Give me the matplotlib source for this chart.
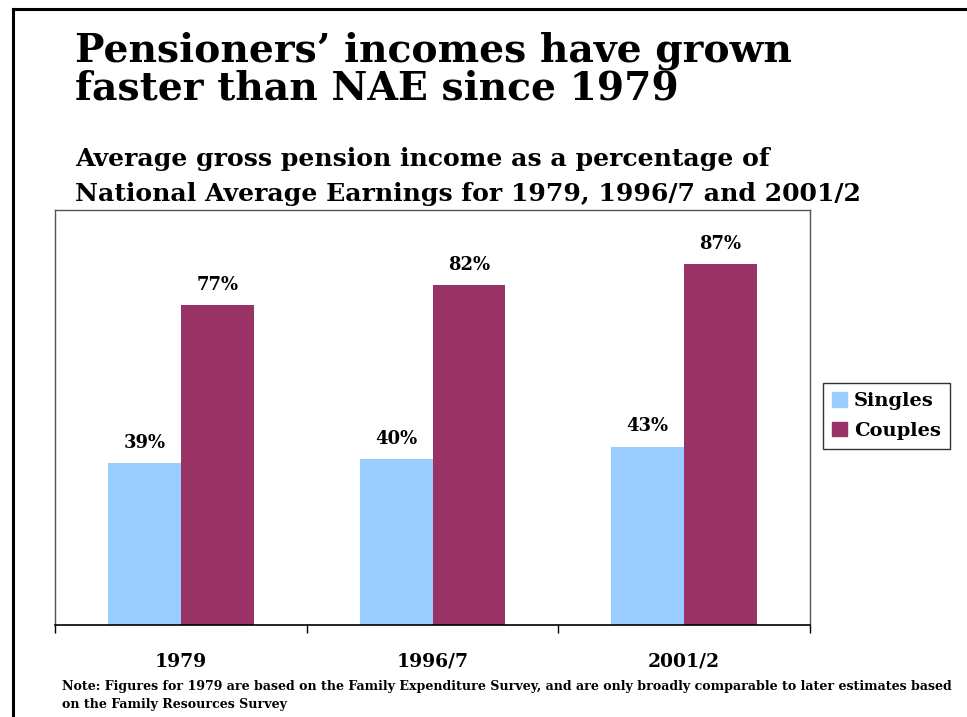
import matplotlib
matplotlib.use("Agg")
import matplotlib.pyplot as plt
import numpy as np
from matplotlib.lines import Line2D
from matplotlib.patches import Patch

# data
years = ["1979", "1996/7", "2001/2"]
singles = [39, 40, 43]
couples = [77, 82, 87]
series_names = ["Singles", "Couples"]
colors = ["#99CCFF", "#993366"]

plt.rcParams['font.family'] = ['DejaVu Serif']
plt.rcParams['font.weight'] = 'bold'

W, H = 967, 717
fig = plt.figure(figsize=(W / 100, H / 100), dpi=100)

# frame lines round the slide (top and left)
fig.add_artist(Line2D([13 / W, 1], [1 - 9 / H, 1 - 9 / H], color="black", lw=2.2))
fig.add_artist(Line2D([13 / W, 13 / W], [0, 1 - 9 / H], color="black", lw=2.2))

# titles
fig.text(75 / W, 1 - 62 / H, "Pensioners’ incomes have grown", fontsize=28.3, fontweight="bold", va="baseline")
fig.text(75 / W, 1 - 100 / H, "faster than NAE since 1979", fontsize=28.3, fontweight="bold", va="baseline")
fig.text(75 / W, 1 - 166 / H, "Average gross pension income as a percentage of", fontsize=18.1, fontweight="bold", va="baseline")
fig.text(75 / W, 1 - 201 / H, "National Average Earnings for 1979, 1996/7 and 2001/2", fontsize=18.1, fontweight="bold", va="baseline")

ax = fig.add_axes([55 / W, 1 - 625 / H, (810 - 55) / W, (625 - 210) / H])
x = np.arange(len(years))
bw = 0.29
b1 = ax.bar(x - bw / 2, singles, bw, color=colors[0], label=series_names[0])
b2 = ax.bar(x + bw / 2, couples, bw, color=colors[1], label=series_names[1])

for bars, vals in [(b1, singles), (b2, couples)]:
    for rect, v in zip(bars, vals):
        ax.annotate(f"{v}%", (rect.get_x() + rect.get_width() / 2, v),
                    xytext=(0, 8), textcoords="offset points",
                    ha="center", va="bottom", fontsize=13, fontweight="bold")

ax.set_ylim(0, 100)
ax.set_xlim(-0.5, 2.5)
ax.set_yticks([])
ax.set_xticks(x)
ax.set_xticklabels(years, fontsize=13.5, fontweight="bold")
ax.tick_params(axis="x", which="major", length=0, pad=20)
ax.set_xticks([-0.5, 0.5, 1.5, 2.5], minor=True)
ax.tick_params(axis="x", which="minor", length=6, width=1, color="black")
for s in ["top", "left", "right"]:
    ax.spines[s].set_color("#555555")
    ax.spines[s].set_linewidth(1)
ax.spines["bottom"].set_color("black")
ax.spines["bottom"].set_linewidth(1.2)

leg = fig.legend(handles=[Patch(color=colors[0]), Patch(color=colors[1])], labels=series_names,
                 loc="upper left", bbox_to_anchor=(823 / W, 1 - 383 / H),
                 prop={"size": 14, "weight": "bold"}, fancybox=False,
                 edgecolor="#333333", framealpha=1, handlelength=0.8, handleheight=0.8,
                 handletextpad=0.35, borderpad=0.45, labelspacing=0.6, borderaxespad=0)
leg.get_frame().set_linewidth(1)

fig.text(62 / W, 1 - 690 / H,
         "Note: Figures for 1979 are based on the Family Expenditure Survey, and are only broadly comparable to later estimates based",
         fontsize=9.1, fontweight="bold", va="baseline")
fig.text(62 / W, 1 - 708 / H, "on the Family Resources Survey", fontsize=9.1, fontweight="bold", va="baseline")

fig.savefig("out.png", dpi=100)
